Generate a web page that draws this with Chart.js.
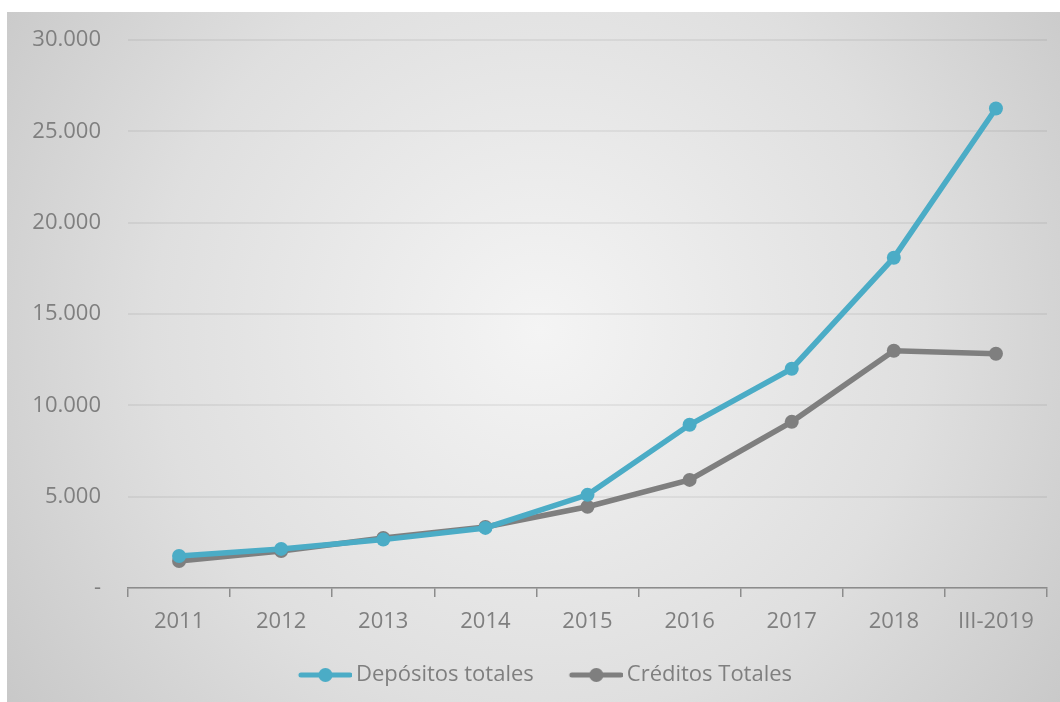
<!DOCTYPE html>
<html><head><meta charset="utf-8">
<script src="https://cdn.jsdelivr.net/npm/chart.js@4/dist/chart.umd.min.js"></script>
<style>html,body{margin:0;padding:0;background:#fff;}canvas{display:block;}</style>
</head><body>
<canvas id="c" width="1060" height="702"></canvas>
<script>
const categories = ['2011','2012','2013','2014','2015','2016','2017','2018','III-2019'];
const depositos = [1750, 2140, 2650, 3290, 5100, 8940, 12010, 18090, 26260];
const creditos = [1480, 2030, 2740, 3340, 4450, 5920, 9100, 12990, 12830];
const yTicks = [0, 5000, 10000, 15000, 20000, 25000, 30000];

const BLUE = '#4BACC6', GRAY = '#7F7F7F', TEXT = '#7f7f7f';
const FONT = "'Open Sans', sans-serif";

function legendIcon(color){
  const cv = document.createElement('canvas');
  cv.width = 79; cv.height = 16;
  const g = cv.getContext('2d');
  g.strokeStyle = color; g.lineWidth = 5; g.lineCap = 'round';
  g.beginPath(); g.moveTo(28, 8); g.lineTo(77, 8); g.stroke();
  g.fillStyle = color; g.beginPath(); g.arc(52.5, 8, 7, 0, Math.PI*2); g.fill();
  return cv;
}

const bgPlugin = {
  id: 'bg',
  beforeDraw(chart){
    const ctx = chart.ctx;
    ctx.save();
    const x0 = 7, y0 = 12, w = 1053, h = 690;
    const g = ctx.createRadialGradient(540, 330, 0, 540, 330, 700);
    g.addColorStop(0, '#f4f4f4');
    g.addColorStop(0.55, '#dfdfdf');
    g.addColorStop(1, '#c4c4c4');
    ctx.fillStyle = g;
    ctx.fillRect(x0, y0, w, h);
    ctx.restore();
  },
  afterLayout(chart){
    if (chart.legend) { chart.legend.left += 9; chart.legend.right += 9; }
  }
};

const fmt = v => v === 0 ? '-' : String(v).replace(/\B(?=(\d{3})+(?!\d))/g, '.');

new Chart(document.getElementById('c'), {
  type: 'line',
  data: {
    labels: categories,
    datasets: [
      { label: 'Depósitos totales', data: depositos, borderColor: BLUE, backgroundColor: BLUE,
        borderWidth: 5.5, pointRadius: 7, pointBackgroundColor: BLUE, pointBorderWidth: 0, tension: 0 },
      { label: 'Créditos Totales', data: creditos, borderColor: GRAY, backgroundColor: GRAY,
        borderWidth: 5.5, pointRadius: 7, pointBackgroundColor: GRAY, pointBorderWidth: 0, tension: 0 }
    ]
  },
  options: {
    responsive: false,
    animation: false,
    devicePixelRatio: 1,
    layout: { padding: { left: 7, right: 13, top: 40, bottom: 6 } },
    plugins: {
      tooltip: { enabled: false },
      legend: {
        position: 'bottom',
        labels: {
          font: { family: FONT, size: 22 },
          color: TEXT,
          usePointStyle: true,
          pointStyleWidth: 65,
          padding: 17,
          generateLabels(chart){
            return chart.data.datasets.map((ds, i) => ({
              text: ds.label, fontColor: TEXT, datasetIndex: i,
              pointStyle: legendIcon(ds.borderColor), lineWidth: 0,
              strokeStyle: 'transparent', fillStyle: 'transparent', hidden: false
            }));
          }
        }
      }
    },
    scales: {
      x: {
        offset: true,
        afterFit(scale){ scale.height = 59; },
        grid: { offset: true, drawOnChartArea: false, drawTicks: true, tickLength: 9, color: '#8c8c8c', lineWidth: 1.5 },
        border: { display: true, color: '#8c8c8c', width: 1.5 },
        ticks: { font: { family: FONT, size: 22 }, color: TEXT, padding: 12, maxRotation: 0 }
      },
      y: {
        min: 0, max: 30000,
        afterBuildTicks(scale){ scale.ticks = yTicks.map(v => ({ value: v })); },
        afterFit(scale){ scale.width = 121; },
        grid: { color: 'rgba(0,0,0,0.055)', lineWidth: 2, drawTicks: false },
        border: { display: false },
        ticks: { font: { family: FONT, size: 22 }, color: TEXT, padding: 27, callback: v => fmt(v) }
      }
    }
  },
  plugins: [bgPlugin]
});
</script>
</body></html>
